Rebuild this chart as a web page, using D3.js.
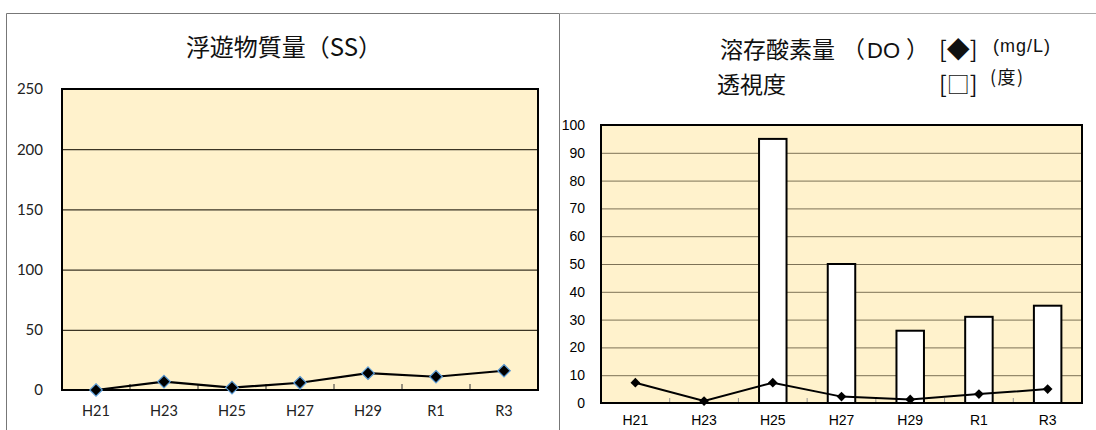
<!DOCTYPE html>
<html><head><meta charset="utf-8">
<script src="https://cdn.jsdelivr.net/npm/d3@7"></script>
<style>
html,body{margin:0;padding:0;background:#fff;}
svg{display:block;}
</style></head>
<body><svg id="c" width="1096" height="430"></svg>
<script>
const categories = ["H21","H23","H25","H27","H29","R1","R3"];
const ssValues = [0, 7, 2, 6, 14, 11, 16];
const ssTicks = [0, 50, 100, 150, 200, 250];
const doValues = [7.3, 0.7, 7.3, 2.3, 1.3, 3.2, 5.0];
const transValues = [null, null, 95, 50, 26, 31, 35];
const rightTicks = [0,10,20,30,40,50,60,70,80,90,100];
const leftTitle = "浮遊物質量（SS）";

const svg = d3.select("#c");
const bg = "#FFF2CC";

// frames
svg.append("line").attr("x1",6.5).attr("x2",6.5).attr("y1",13.5).attr("y2",430).attr("stroke","#777");
svg.append("line").attr("x1",6.5).attr("x2",559.5).attr("y1",13.5).attr("y2",13.5).attr("stroke","#777");
svg.append("line").attr("x1",559.5).attr("x2",559.5).attr("y1",13.5).attr("y2",430).attr("stroke","#777");
svg.append("line").attr("x1",559.5).attr("x2",1096).attr("y1",13.5).attr("y2",13.5).attr("stroke","#aaa");

// ---------- Left chart ----------
{
  const L = {x0:62, x1:538, y0:89, y1:390};
  const x = d3.scaleBand().domain(categories).range([L.x0, L.x1]).padding(0);
  const y = d3.scaleLinear().domain([0,250]).range([L.y1, L.y0]);
  const g = svg.append("g");
  g.append("rect").attr("x",L.x0).attr("y",L.y0).attr("width",L.x1-L.x0).attr("height",L.y1-L.y0).attr("fill",bg);
  g.append("g").attr("transform",`translate(${L.x0},0)`)
    .call(d3.axisLeft(y).tickValues(ssTicks.filter(d=>d>0 && d<250)).tickSize(-(L.x1-L.x0)).tickFormat(""))
    .call(s=>s.select(".domain").remove())
    .call(s=>s.selectAll("line").attr("stroke","#3b3524").attr("stroke-width",1.2));
  g.append("g").attr("transform",`translate(${L.x0-16},0)`)
    .call(d3.axisLeft(y).tickValues(ssTicks).tickSize(0))
    .call(s=>s.select(".domain").remove())
    .call(s=>s.selectAll("text").attr("font-family","Lato, 'Open Sans', sans-serif").attr("font-size",15).attr("fill","#222"));
  const bounds = categories.slice(1).map(c=>x(c));
  g.selectAll(".xt").data(bounds).enter().append("line")
    .attr("x1",d=>d).attr("x2",d=>d).attr("y1",L.y1).attr("y2",L.y1-6).attr("stroke","#333").attr("stroke-width",1);
  g.append("g").attr("transform",`translate(0,${L.y1})`)
    .call(d3.axisBottom(x).tickSize(0).tickPadding(16))
    .call(s=>s.select(".domain").remove())
    .call(s=>s.selectAll("text").attr("font-family","Lato, 'Open Sans', sans-serif").attr("font-size",14.5).attr("fill","#222"));
  g.append("rect").attr("x",L.x0).attr("y",L.y0).attr("width",L.x1-L.x0).attr("height",L.y1-L.y0)
    .attr("fill","none").attr("stroke","#000").attr("stroke-width",2);
  const line = d3.line().x((d,i)=>x(categories[i])+x.bandwidth()/2).y(d=>y(d));
  g.append("path").datum(ssValues).attr("d",line).attr("fill","none").attr("stroke","#000").attr("stroke-width",2.2);
  const sym = d3.symbol().type(d3.symbolDiamond2).size(100);
  g.selectAll(".m").data(ssValues).enter().append("path")
    .attr("d",sym).attr("transform",(d,i)=>`translate(${x(categories[i])+x.bandwidth()/2},${y(d)})`)
    .attr("fill","#000").attr("stroke","#5b9bd5").attr("stroke-width",1.2);
  svg.append("text").attr("x",284).attr("y",56).attr("text-anchor","middle")
    .attr("font-family","'Noto Sans CJK JP', sans-serif").attr("font-size",24).attr("fill","#111").text(leftTitle);
}

// ---------- Right chart ----------
{
  const R = {x0:601, x1:1082, y0:125, y1:403};
  const x = d3.scaleBand().domain(categories).range([R.x0, R.x1]).padding(0);
  const y = d3.scaleLinear().domain([0,100]).range([R.y1, R.y0]);
  const g = svg.append("g");
  g.append("rect").attr("x",R.x0).attr("y",R.y0).attr("width",R.x1-R.x0).attr("height",R.y1-R.y0).attr("fill",bg);
  g.append("g").attr("transform",`translate(${R.x0},0)`)
    .call(d3.axisLeft(y).tickValues(rightTicks.filter(d=>d>0 && d<100)).tickSize(-(R.x1-R.x0)).tickFormat(""))
    .call(s=>s.select(".domain").remove())
    .call(s=>s.selectAll("line").attr("stroke","#7d7256").attr("stroke-width",1));
  g.append("g").attr("transform",`translate(${R.x0-13},0)`)
    .call(d3.axisLeft(y).tickValues(rightTicks).tickSize(0))
    .call(s=>s.select(".domain").remove())
    .call(s=>s.selectAll("text").attr("font-family","'Liberation Sans', Arial, sans-serif").attr("font-size",14).attr("fill","#000"));
  const bounds = categories.slice(1).map(c=>x(c));
  g.selectAll(".xt").data(bounds).enter().append("line")
    .attr("x1",d=>d).attr("x2",d=>d).attr("y1",R.y1).attr("y2",R.y1-5).attr("stroke","#999").attr("stroke-width",1);
  g.append("g").attr("transform",`translate(0,${R.y1})`)
    .call(d3.axisBottom(x).tickSize(0).tickPadding(12))
    .call(s=>s.select(".domain").remove())
    .call(s=>s.selectAll("text").attr("font-family","'Liberation Sans', Arial, sans-serif").attr("font-size",14).attr("fill","#000"));
  const bw = x.bandwidth()*0.4;
  g.selectAll(".bar").data(transValues.map((v,i)=>({v,c:categories[i]})).filter(d=>d.v!=null)).enter().append("rect")
    .attr("x",d=>x(d.c)+x.bandwidth()/2-bw/2).attr("y",d=>y(d.v)).attr("width",bw).attr("height",d=>y(0)-y(d.v))
    .attr("fill","#fff").attr("stroke","#000").attr("stroke-width",2);
  g.append("rect").attr("x",R.x0).attr("y",R.y0).attr("width",R.x1-R.x0).attr("height",R.y1-R.y0)
    .attr("fill","none").attr("stroke","#000").attr("stroke-width",2);
  const line = d3.line().x((d,i)=>x(categories[i])+x.bandwidth()/2).y(d=>y(d));
  g.append("path").datum(doValues).attr("d",line).attr("fill","none").attr("stroke","#000").attr("stroke-width",2);
  const sym = d3.symbol().type(d3.symbolDiamond2).size(60);
  g.selectAll(".m").data(doValues).enter().append("path")
    .attr("d",sym).attr("transform",(d,i)=>`translate(${x(categories[i])+x.bandwidth()/2},${y(d)})`)
    .attr("fill","#000");
  const cjk = "'Noto Sans CJK JP', sans-serif";
  const sans = "'Liberation Sans', Arial, sans-serif";
  svg.append("text").attr("x",720).attr("y",58).attr("font-family",cjk).attr("font-size",23).attr("fill","#111").text("溶存酸素量");
  const t = svg.append("text").attr("x",842).attr("y",58).attr("font-family",cjk).attr("font-size",23).attr("fill","#111");
  t.append("tspan").text("（");
  t.append("tspan").attr("dx",2).attr("font-family",sans).attr("font-size",22).text("DO");
  t.append("tspan").attr("dx",6).text("）");
  svg.append("text").attr("x",939).attr("y",58).attr("font-family",cjk).attr("font-size",23).attr("fill","#111").text("[◆]");
  svg.append("text").attr("x",993).attr("y",52).attr("font-family",sans).attr("font-size",18).attr("letter-spacing",1).attr("fill","#111").text("(mg/L)");
  svg.append("text").attr("x",717).attr("y",93).attr("font-family",cjk).attr("font-size",23).attr("fill","#111").text("透視度");
  svg.append("text").attr("x",939).attr("y",93).attr("font-family",cjk).attr("font-size",23).attr("fill","#111").text("[□]");
  svg.append("text").attr("x",990).attr("y",84).attr("font-family",cjk).attr("font-size",18).attr("letter-spacing",1.5).attr("fill","#111").text("(度)");
}
</script></body></html>
